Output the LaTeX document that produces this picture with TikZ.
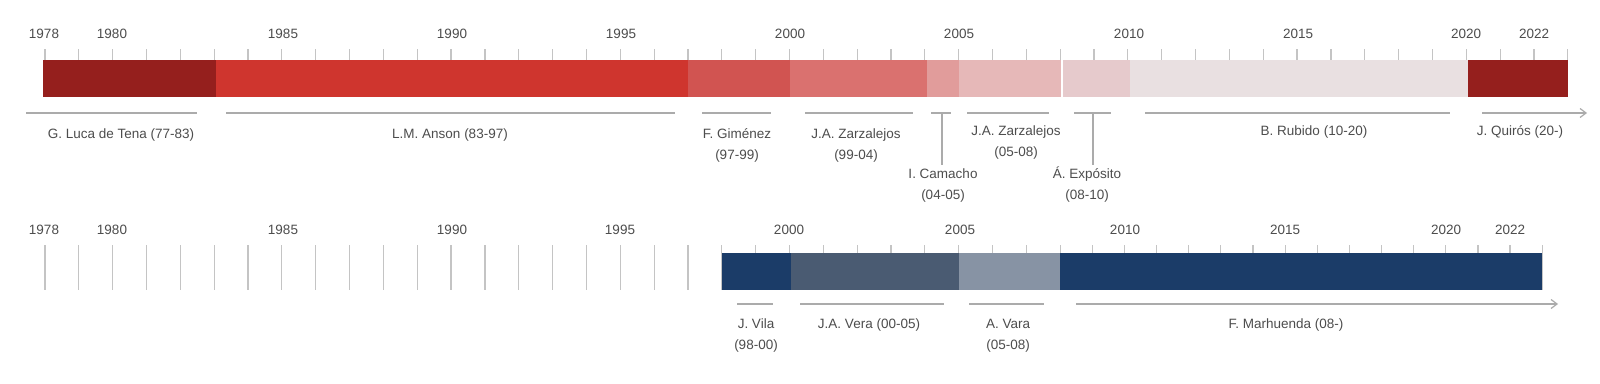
\documentclass[tikz,border=0pt]{standalone}
\usepackage{fontspec}
\setmainfont{Liberation Sans}
\usetikzlibrary{arrows.meta}
\definecolor{txt}{HTML}{4D4D4D}
\definecolor{tickc}{HTML}{C4C4C4}
\definecolor{linec}{HTML}{ABABAB}
\definecolor{rA}{HTML}{951F1D}
\definecolor{rB}{HTML}{CF352E}
\definecolor{rC}{HTML}{D15451}
\definecolor{rD}{HTML}{DA716F}
\definecolor{rE}{HTML}{E19C9B}
\definecolor{rF}{HTML}{E6B8B8}
\definecolor{rG}{HTML}{E6CACC}
\definecolor{rH}{HTML}{E9E0E1}
\definecolor{bA}{HTML}{1B3C68}
\definecolor{bB}{HTML}{4A5B72}
\definecolor{bC}{HTML}{8793A4}
\begin{document}
\begin{tikzpicture}[x=1pt,y=-1pt,
  seg/.style={draw=none,inner sep=0pt,outer sep=0pt,anchor=north west,minimum height=37pt},
  yr/.style={inner sep=0pt,anchor=base,text=txt,font=\fontsize{13.5}{16}\selectfont},
  lab/.style={inner sep=0pt,anchor=base,text=txt,align=center,font=\fontsize{13.5}{21}\selectfont},
  tickl/.style={draw=tickc,line width=1.2pt},
  lline/.style={draw=linec,line width=1.3pt},
  arr/.style={lline,-{Straight Barb[length=6pt,width=9pt,line width=1.2pt]}}]
\useasboundingbox[fill=white] (0,0) rectangle (1600,383);
% ---------- top timeline ----------
\foreach \i in {0,...,45} \draw[tickl] ({45+33.84*\i},49) -- ({45+33.84*\i},62);
\foreach \y/\x in {1978/44,1980/112,1985/283,1990/452,1995/621,2000/790,2005/959,2010/1129,2015/1298,2020/1466,2022/1534}
  \node[yr] (t\y) at (\x,38.5) {\y};
\node[seg,fill=rA,minimum width=173pt] (s1) at (43,60) {};
\node[seg,fill=rB,minimum width=472pt] (s2) at (216,60) {};
\node[seg,fill=rC,minimum width=102pt] (s3) at (688,60) {};
\node[seg,fill=rD,minimum width=137pt] (s4) at (790,60) {};
\node[seg,fill=rE,minimum width=32pt] (s5) at (927,60) {};
\node[seg,fill=rF,minimum width=102pt] (s6) at (959,60) {};
\node[seg,fill=rG,minimum width=67pt] (s7) at (1063,60) {};
\node[seg,fill=rH,minimum width=338pt] (s8) at (1130,60) {};
\node[seg,fill=rA,minimum width=100pt] (s9) at (1468,60) {};
% labels
\node[lab] (l1) at (121,138) {G. Luca de Tena (77-83)};
\node[lab] (l2) at (450,138) {L.M. Anson (83-97)};
\node[lab] (l3) at (737,159) {F. Giménez\\(97-99)};
\node[lab] (l4) at (856,159) {J.A. Zarzalejos\\(99-04)};
\node[lab] (l5) at (943,199) {I. Camacho\\(04-05)};
\node[lab] (l6) at (1016,156) {J.A. Zarzalejos\\(05-08)};
\node[lab] (l7) at (1087,199) {Á. Expósito\\(08-10)};
\node[lab] (l8) at (1314,135) {B. Rubido (10-20)};
\node[lab] (l9) at (1520,135) {J. Quirós (20-)};
\draw[lline] (26,113) -- (197,113);
\draw[lline] (226,113) -- (675,113);
\draw[lline] (702,113) -- (771,113);
\draw[lline] (805,113) -- (913,113);
\draw[lline] (931,113) -- (951,113);
\coordinate (c5) at (942,113);
\draw[lline] (c5) -- (942,165);
\draw[lline] (967,113) -- (1049,113);
\draw[lline] (1074,113) -- (1111,113);
\coordinate (c7) at (1093,113);
\draw[lline] (c7) -- (1093,165);
\draw[lline] (1145,113) -- (1450,113);
\draw[arr] (1482,113) -- (1587,113);
% ---------- bottom timeline ----------
\foreach \i in {0,...,30} \draw[tickl] ({45+33.84*\i},245) -- ({45+33.84*\i},289.5);
\foreach \j in {1,...,15} \draw[tickl] ({1060.2+32.13*\j},245) -- ({1060.2+32.13*\j},289.5);
\foreach \y/\x in {1978/44,1980/112,1985/283,1990/452,1995/620,2000/789,2005/960,2010/1125,2015/1285,2020/1446,2022/1510}
  \node[yr] (b\y) at (\x,234) {\y};
\node[seg,fill=bA,minimum width=69pt] (u1) at (722,253) {};
\node[seg,fill=bB,minimum width=168pt] (u2) at (791,253) {};
\node[seg,fill=bC,minimum width=101pt] (u3) at (959,253) {};
\node[seg,fill=bA,minimum width=482pt] (u4) at (1060,253) {};
\node[lab] (m1) at (756,349) {J. Vila\\(98-00)};
\node[lab] (m2) at (869,328) {J.A. Vera (00-05)};
\node[lab] (m3) at (1008,349) {A. Vara\\(05-08)};
\node[lab] (m4) at (1286,328) {F. Marhuenda (08-)};
\draw[lline] (737,304) -- (773,304);
\draw[lline] (800,304) -- (944,304);
\draw[lline] (969,304) -- (1044,304);
\draw[arr] (1076,304) -- (1558,304);
\end{tikzpicture}
\end{document}
